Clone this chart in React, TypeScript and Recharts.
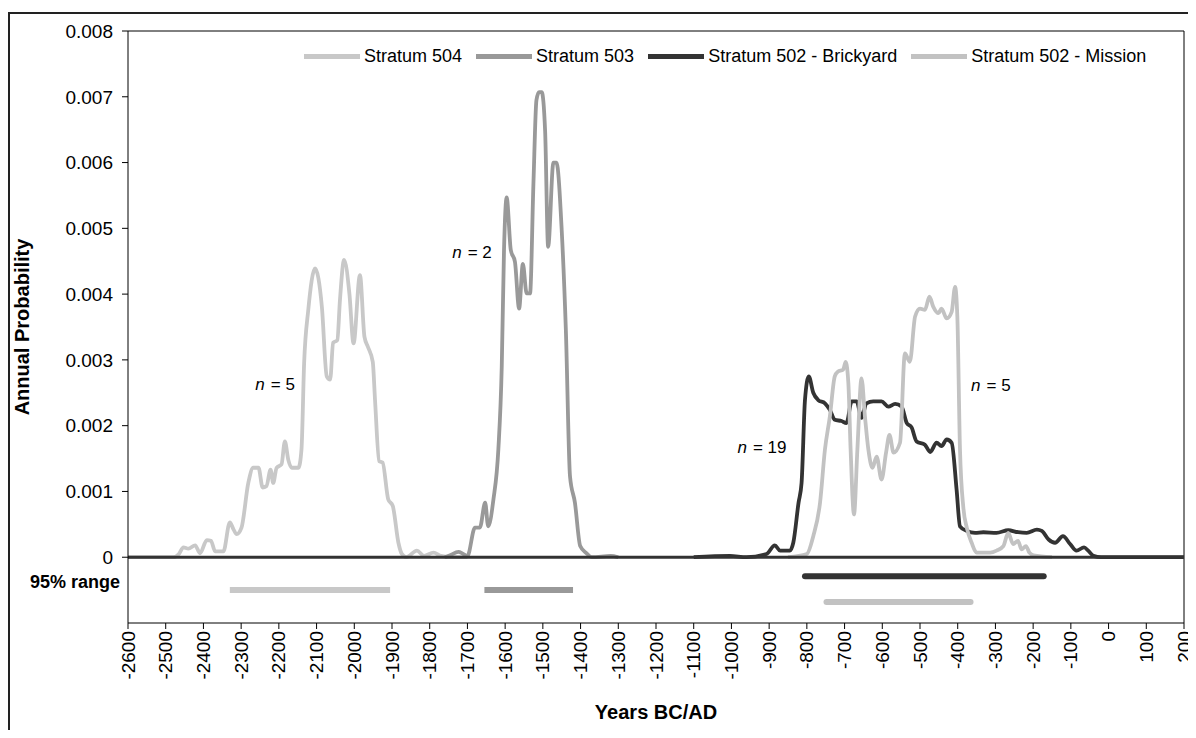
import { LineChart, Line, XAxis, YAxis, Legend, ReferenceLine, ReferenceDot } from 'recharts';

const yearTicks = [
  -2600, -2500, -2400, -2300, -2200, -2100, -2000, -1900, -1800, -1700, -1600, -1500, -1400,
  -1300, -1200, -1100, -1000, -900, -800, -700, -600, -500, -400, -300, -200, -100, 0, 100, 200,
];
const probTicks = [0, 0.001, 0.002, 0.003, 0.004, 0.005, 0.006, 0.007, 0.008];

const seriesNames = ['Stratum 504', 'Stratum 503', 'Stratum 502 - Brickyard', 'Stratum 502 - Mission'];
const seriesColors = ['#c8c8c8', '#999999', '#333333', '#c2c2c2'];

const s504Years = [
  -2600, -2480, -2465, -2453, -2440, -2422, -2409, -2391, -2380, -2369, -2347, -2330, -2320, -2312,
  -2299, -2281, -2268, -2254, -2243, -2233, -2222, -2215, -2206, -2193, -2184, -2175, -2166, -2148,
  -2140, -2133, -2122, -2104, -2086, -2073, -2064, -2056, -2045, -2038, -2027, -2013, -2002, -1985,
  -1973, -1964, -1951, -1945, -1934, -1925, -1910, -1898, -1883, -1874, -1862, -1834, -1815, -1790,
  -1770, -1740, -1700,
];
const s504Probs = [
  0, 0, 0.00005, 0.00015, 0.00013, 0.00018, 0.00006, 0.00026, 0.00025, 0.00009, 0.00009, 0.00053, 0.00042, 0.00035,
  0.00045, 0.00113, 0.00136, 0.00136, 0.00106, 0.00108, 0.00133, 0.00113, 0.00136, 0.00141, 0.00176, 0.00148, 0.00136, 0.00136,
  0.00164, 0.00295, 0.00376, 0.00439, 0.00381, 0.00275, 0.0027, 0.00326, 0.0033, 0.00391, 0.00452, 0.00401, 0.00325, 0.00429,
  0.00335, 0.0032, 0.00297, 0.00239, 0.00146, 0.00144, 0.00088, 0.00078, 0.00022, 0.00005, 0, 0.0001, 0.00002, 0.00007,
  0.00002, 0, 0,
];

const s503Years = [
  -1760, -1746, -1724, -1711, -1700, -1680, -1667, -1653, -1645, -1631, -1618, -1609, -1603, -1596,
  -1585, -1574, -1563, -1553, -1543, -1534, -1525, -1517, -1510, -1503, -1494, -1486, -1472, -1464,
  -1450, -1439, -1428, -1415, -1401, -1384, -1370, -1320, -1300,
];
const s503Probs = [
  0, 0.00003, 0.00008, 0.00005, 0.00002, 0.00045, 0.00045, 0.00083, 0.00047, 0.00088, 0.00164, 0.0029, 0.00467, 0.00547,
  0.00467, 0.00449, 0.00378, 0.00446, 0.00401, 0.00401, 0.00568, 0.00695, 0.00707, 0.00707, 0.00648, 0.00472, 0.006, 0.006,
  0.00497, 0.00345, 0.00123, 0.00083, 0.00017, 0.00006, 0, 0.00002, 0,
];

const brickYears = [
  -1100, -1004, -960, -907, -885, -871, -845, -836, -822, -814, -805, -795, -783, -770, -752, -739,
  -726, -708, -695, -681, -668, -655, -642, -624, -602, -584, -566, -549, -535, -522, -509, -487,
  -473, -456, -443, -429, -416, -403, -394, -376, -354, -332, -297, -266, -240, -217, -190, -177,
  -159, -142, -121, -102, -85, -65, -54, -40, -20, 200,
];
const brickProbs = [
  0, 0.00002, 0, 0.00005, 0.00018, 0.0001, 0.0001, 0.00022, 0.00083, 0.00113, 0.00239, 0.00275, 0.0025, 0.00239, 0.00234, 0.00224,
  0.00209, 0.00207, 0.00204, 0.00237, 0.00237, 0.00212, 0.00234, 0.00237, 0.00237, 0.00229, 0.00233, 0.00229, 0.00204, 0.00197, 0.00176, 0.00171,
  0.0016, 0.00174, 0.00169, 0.00179, 0.00174, 0.00103, 0.00047, 0.0004, 0.00037, 0.00038, 0.00037, 0.00041, 0.00038, 0.00037, 0.00042, 0.0004,
  0.00027, 0.00022, 0.00032, 0.0002, 0.0001, 0.00015, 0.0001, 0.00002, 0, 0,
];

const missionYears = [
  -850, -800, -783, -765, -752, -739, -726, -718, -704, -697, -690, -684, -675, -666, -655, -646,
  -637, -626, -615, -602, -590, -581, -570, -553, -540, -527, -513, -500, -487, -475, -465, -451,
  -443, -429, -416, -407, -401, -394, -385, -376, -363, -350, -314, -297, -279, -266, -253, -240,
  -231, -219, -210, -199, -150,
];
const missionProbs = [
  0, 0.00005, 0.00032, 0.00083, 0.00164, 0.00214, 0.00275, 0.00282, 0.00285, 0.00297, 0.00265, 0.00164, 0.00065, 0.00164, 0.00272, 0.00214,
  0.00164, 0.00136, 0.00153, 0.00118, 0.00159, 0.00186, 0.00159, 0.00174, 0.0031, 0.00297, 0.00366, 0.00378, 0.00376, 0.00396, 0.00381, 0.00371,
  0.00378, 0.00363, 0.00373, 0.00411, 0.00366, 0.00164, 0.00075, 0.00045, 0.00022, 0.00007, 0.00007, 0.0001, 0.00017, 0.00037, 0.0002, 0.00025,
  0.00012, 0.00017, 0.00007, 0.00003, 0,
];

// 95% ranges, drawn below the zero line
const rangeStarts = [-2330, -1655, -805, -748];
const rangeEnds = [-1905, -1420, -172, -366];
const rangeLevels = [-0.0005, -0.0005, -0.00029, -0.00068];

// n = ... notes
const noteYears = [-2210, -1688, -919, -312];
const noteProbs = [0.00264, 0.00464, 0.00168, 0.00262];
const noteCounts = ['5', '2', '19', '5'];

const FONT = 'Arial, "Liberation Sans", sans-serif';

const toPoints = (years: number[], probs: number[]) => years.map((year, i) => ({ year, p: probs[i] }));

const curves = [
  toPoints(s504Years, s504Probs),
  toPoints(s503Years, s503Probs),
  toPoints(brickYears, brickProbs),
  toPoints(missionYears, missionProbs),
];

const ranges = rangeStarts.map((start, i) => [
  { year: start, p: rangeLevels[i] },
  { year: rangeEnds[i], p: rangeLevels[i] },
]);

const YearTick = ({ x, y, payload }: any) => (
  <text
    x={x}
    y={y}
    transform={`rotate(-90 ${x} ${y})`}
    textAnchor="end"
    dominantBaseline="central"
    fontSize={19}
    fontFamily={FONT}
    fill="#000"
  >
    {payload.value}
  </text>
);

const YTitle = ({ viewBox }: any) => {
  const cx = 14;
  const cy = viewBox.y + viewBox.height / 2;
  return (
    <text x={cx} y={cy} transform={`rotate(-90 ${cx} ${cy})`} textAnchor="middle" dominantBaseline="central"
      fontSize={20} fontWeight="bold" fontFamily={FONT} fill="#000">
      Annual Probability
    </text>
  );
};

const XTitle = ({ viewBox }: any) => (
  <text x={viewBox.x + viewBox.width / 2} y={viewBox.y + viewBox.height + 19} textAnchor="middle"
    dominantBaseline="central" fontSize={20} fontWeight="bold" fontFamily={FONT} fill="#000">
    Years BC/AD
  </text>
);

const RangeTitle = ({ viewBox }: any) => (
  <text x={viewBox.x - 8} y={viewBox.y} textAnchor="end" dominantBaseline="central"
    fontSize={18} fontWeight="bold" fontFamily={FONT} fill="#000">
    95% range
  </text>
);

const NoteLabel = ({ viewBox, n }: any) => (
  <text x={viewBox.x} y={viewBox.y} textAnchor="middle" dominantBaseline="central"
    fontSize={17} fontFamily={FONT} fill="#000">
    <tspan fontStyle="italic">n</tspan>
    <tspan dx={6}>= {n}</tspan>
  </text>
);

const renderLegend = ({ payload }: any) => {
  const items = seriesNames
    .map((name) => (payload || []).find((e: any) => e.value === name))
    .filter(Boolean);
  return (
    <div style={{ display: 'flex', alignItems: 'center', fontSize: 18, fontFamily: FONT, whiteSpace: 'nowrap', color: '#000' }}>
      {items.map((e: any) => (
        <span key={e.value} style={{ display: 'flex', alignItems: 'center', marginRight: 14 }}>
          <span style={{ display: 'inline-block', width: 56, height: 5, background: e.color, marginRight: 4 }} />
          {e.value}
        </span>
      ))}
    </div>
  );
};

export default function App() {
  return (
    <div style={{ position: 'relative', width: 1188, height: 722, overflow: 'hidden', fontFamily: FONT, background: '#fff' }}>
      <div style={{ position: 'absolute', left: 0, top: 4, width: 1300, height: 900, border: '2px solid #222', boxSizing: 'border-box' }} />
      <LineChart width={1188} height={730} margin={{ top: 23, right: 12, left: 0, bottom: 45 }} style={{ position: 'absolute', left: 0, top: 0 }}>
        <XAxis
          type="number"
          dataKey="year"
          domain={[-2600, 200]}
          ticks={yearTicks}
          interval={0}
          allowDataOverflow
          height={70}
          stroke="#000"
          tickSize={6}
          tick={<YearTick />}
          label={<XTitle />}
        />
        <YAxis
          type="number"
          dataKey="p"
          domain={[-0.001, 0.008]}
          ticks={probTicks}
          interval={0}
          allowDataOverflow
          width={120}
          stroke="#000"
          tickSize={6}
          tickMargin={9}
          tick={{ fontSize: 19, fill: '#000', fontFamily: FONT }}
          tickFormatter={(v: number) => (v === 0 ? '0' : v.toFixed(3))}
          label={<YTitle />}
        />
        <ReferenceLine y={0.008} stroke="#000" strokeWidth={1} />
        <ReferenceLine x={200} stroke="#000" strokeWidth={1} />
        {curves.map((pts, i) => (
          <Line
            key={seriesNames[i]}
            data={pts}
            dataKey="p"
            name={seriesNames[i]}
            type="monotone"
            stroke={seriesColors[i]}
            strokeWidth={3.8}
            strokeLinejoin="round"
            dot={false}
            activeDot={false}
            isAnimationActive={false}
          />
        ))}
        {ranges.map((pts, i) => (
          <Line
            key={`range-${seriesNames[i]}`}
            data={pts}
            dataKey="p"
            name={`${seriesNames[i]} 95%`}
            legendType="none"
            type="linear"
            stroke={seriesColors[i]}
            strokeWidth={6}
            strokeLinecap={i < 2 ? 'butt' : 'round'}
            dot={false}
            activeDot={false}
            isAnimationActive={false}
          />
        ))}
        <ReferenceLine y={0} stroke="#333" strokeWidth={3} />
        <ReferenceDot x={-2600} y={-0.00038} r={0} fill="none" stroke="none" label={<RangeTitle />} />
        {noteYears.map((yr, i) => (
          <ReferenceDot key={`note-${i}`} x={yr} y={noteProbs[i]} r={0} fill="none" stroke="none"
            label={<NoteLabel n={noteCounts[i]} />} />
        ))}
        <Legend
          layout="horizontal"
          verticalAlign="middle"
          align="center"
          content={renderLegend}
          wrapperStyle={{ top: 38, left: 296, width: 'auto' }}
        />
      </LineChart>
    </div>
  );
}
